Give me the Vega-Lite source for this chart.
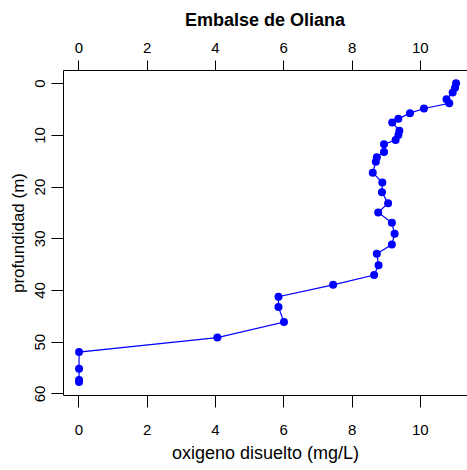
{
  "$schema": "https://vega.github.io/schema/vega-lite/v6.json",
  "autosize": {"type": "none"},
  "padding": {"left": 63, "top": 70, "right": 0, "bottom": 75},
  "width": 404,
  "height": 325,
  "background": "white",
  "title": {"text": "Embalse de Oliana", "font": "Liberation Sans", "fontSize": 18, "fontWeight": "bold", "color": "black", "anchor": "middle", "frame": "group", "offset": 10},
  "config": {
    "view": {"stroke": null},
    "axis": {"grid": false, "domainColor": "black", "tickColor": "black", "labelColor": "black", "titleColor": "black", "labelFont": "Liberation Sans", "titleFont": "Liberation Sans", "labelFontSize": 14, "titleFontSize": 16, "titleFontWeight": "normal", "labelFontWeight": "normal", "domainWidth": 1, "tickWidth": 1}
  },
  "data": {"values": [
    {"o": 1, "oxigeno": 11.06, "prof": 0.0},
    {"o": 2, "oxigeno": 11.03, "prof": 0.9},
    {"o": 3, "oxigeno": 10.96, "prof": 1.8},
    {"o": 4, "oxigeno": 10.78, "prof": 3.1},
    {"o": 5, "oxigeno": 10.86, "prof": 3.9},
    {"o": 6, "oxigeno": 10.12, "prof": 4.9},
    {"o": 7, "oxigeno": 9.71, "prof": 5.8},
    {"o": 8, "oxigeno": 9.37, "prof": 6.9},
    {"o": 9, "oxigeno": 9.19, "prof": 7.6},
    {"o": 10, "oxigeno": 9.4, "prof": 9.2},
    {"o": 11, "oxigeno": 9.37, "prof": 10.0},
    {"o": 12, "oxigeno": 9.29, "prof": 11.0},
    {"o": 13, "oxigeno": 8.95, "prof": 11.8},
    {"o": 14, "oxigeno": 8.95, "prof": 13.3},
    {"o": 15, "oxigeno": 8.74, "prof": 14.3},
    {"o": 16, "oxigeno": 8.71, "prof": 15.2},
    {"o": 17, "oxigeno": 8.62, "prof": 17.3},
    {"o": 18, "oxigeno": 8.9, "prof": 19.2},
    {"o": 19, "oxigeno": 8.89, "prof": 21.1},
    {"o": 20, "oxigeno": 9.07, "prof": 23.2},
    {"o": 21, "oxigeno": 8.78, "prof": 25.0},
    {"o": 22, "oxigeno": 9.18, "prof": 27.0},
    {"o": 23, "oxigeno": 9.26, "prof": 29.1},
    {"o": 24, "oxigeno": 9.18, "prof": 31.2},
    {"o": 25, "oxigeno": 8.74, "prof": 33.0},
    {"o": 26, "oxigeno": 8.79, "prof": 35.2},
    {"o": 27, "oxigeno": 8.66, "prof": 37.1},
    {"o": 28, "oxigeno": 7.46, "prof": 39.0},
    {"o": 29, "oxigeno": 5.86, "prof": 41.3},
    {"o": 30, "oxigeno": 5.86, "prof": 43.3},
    {"o": 31, "oxigeno": 6.02, "prof": 46.2},
    {"o": 32, "oxigeno": 4.07, "prof": 49.2},
    {"o": 33, "oxigeno": 0.02, "prof": 52.0},
    {"o": 34, "oxigeno": 0.02, "prof": 55.2},
    {"o": 35, "oxigeno": 0.02, "prof": 57.4},
    {"o": 36, "oxigeno": 0.02, "prof": 57.8}
  ]},
  "encoding": {
    "y": {"field": "prof", "type": "quantitative",
      "scale": {"domain": [-2.55, 60.3], "nice": false, "zero": false, "reverse": true},
      "axis": {"values": [0, 10, 20, 30, 40, 50, 60], "title": "profundidad (m)", "tickSize": 12, "labelAngle": -90, "labelAlign": "center", "labelBaseline": "bottom", "labelPadding": 4, "titlePadding": 5, "labelFontSize": 15, "titleFontSize": 17, "labelFont": "Liberation Sans", "titleFont": "Liberation Sans"}},
    "order": {"field": "o", "type": "quantitative"}
  },
  "layer": [
    {"mark": {"type": "line", "color": "#0000FF", "strokeWidth": 1.2},
     "encoding": {"x": {"field": "oxigeno", "type": "quantitative",
      "scale": {"domain": [-0.45, 11.38], "nice": false, "zero": false},
      "axis": {"orient": "bottom", "values": [0, 2, 4, 6, 8, 10], "title": "oxigeno disuelto (mg/L)", "tickSize": 12, "labelPadding": 15, "titlePadding": 7, "labelFontSize": 15, "titleFontSize": 18, "labelFont": "Liberation Sans", "titleFont": "Liberation Sans"}}}},
    {"mark": {"type": "point", "filled": true, "opacity": 1, "color": "#0000FF", "size": 64},
     "encoding": {"x": {"field": "oxigeno", "type": "quantitative",
      "scale": {"domain": [-0.45, 11.38], "nice": false, "zero": false}, "axis": null}}},
    {"mark": {"type": "point", "opacity": 0},
     "encoding": {"x": {"field": "oxigeno", "type": "quantitative",
      "scale": {"domain": [-0.45, 11.38], "nice": false, "zero": false},
      "axis": {"orient": "top", "values": [0, 2, 4, 6, 8, 10], "title": null, "tickSize": 10, "labelPadding": 5, "labelFontSize": 15, "labelFont": "Liberation Sans"}}}}
  ],
  "resolve": {"axis": {"x": "independent"}}
}
